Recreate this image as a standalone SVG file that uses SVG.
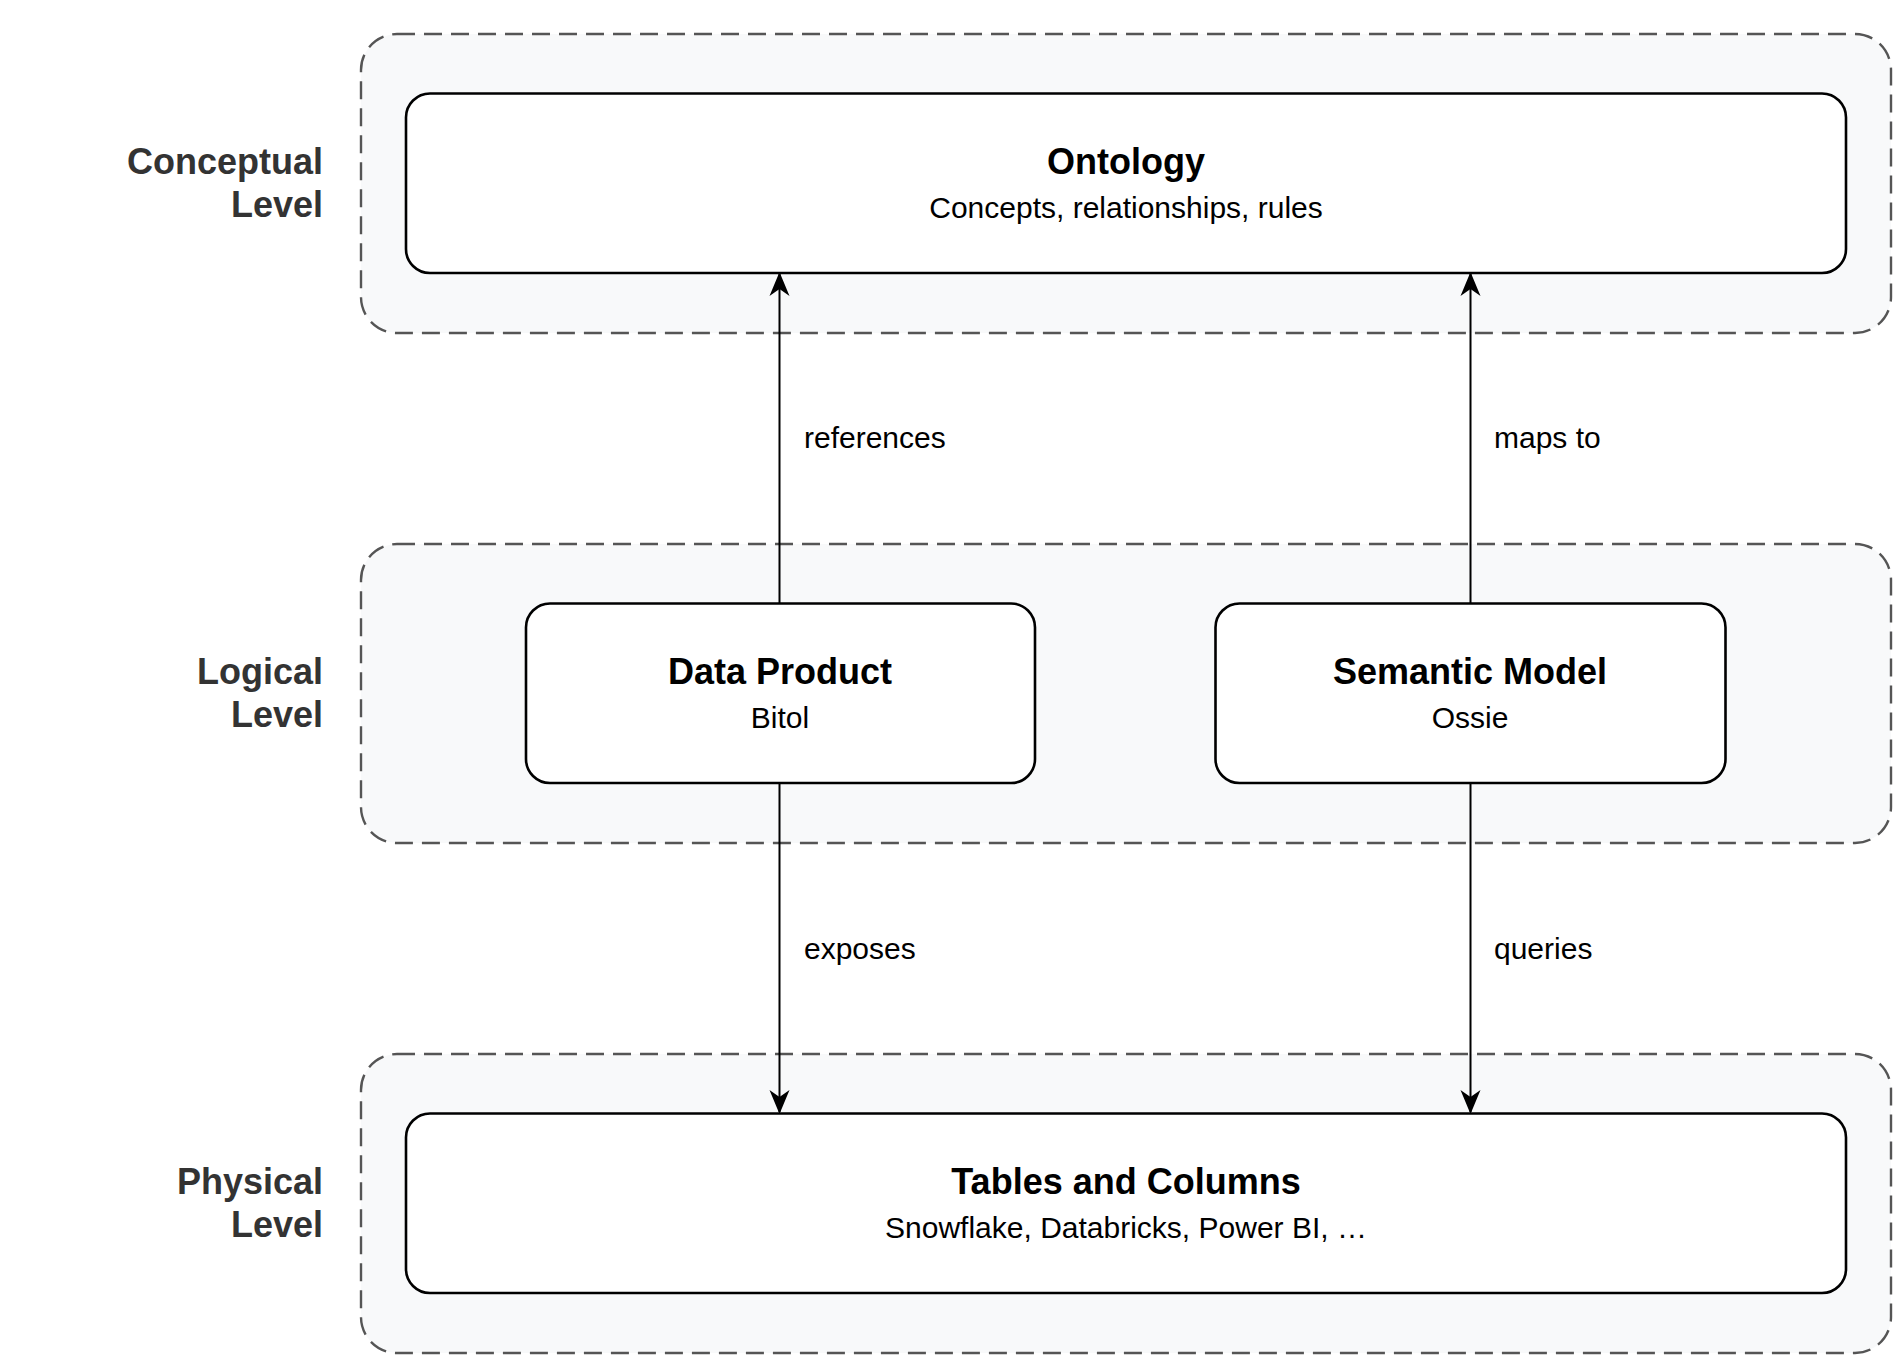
<svg xmlns="http://www.w3.org/2000/svg" width="1904" height="1367" viewBox="0 0 1904 1367">
<style>
.grp{fill:#f8f9fa;stroke:#555;stroke-width:2.4;stroke-dasharray:18 9}
.box{fill:#fff;stroke:#000;stroke-width:2.6}
.t{font-family:"Liberation Sans",Arial,sans-serif;font-weight:bold;font-size:36px;text-anchor:middle;fill:#000}
.s{font-family:"Liberation Sans",Arial,sans-serif;font-size:30px;text-anchor:middle;fill:#000}
.lv{font-family:"Liberation Sans",Arial,sans-serif;font-weight:bold;font-size:36px;text-anchor:end;fill:#333}
.el{font-family:"Liberation Sans",Arial,sans-serif;font-size:30px;fill:#000}
.e{stroke:#000;stroke-width:2;fill:none;marker-end:url(#ah)}
</style>
<defs>
<marker id="ah" viewBox="0 0 24 24" refX="22" refY="12" markerWidth="24" markerHeight="24" markerUnits="userSpaceOnUse" orient="auto">
<path d="M0,2 L24,12 L0,22 L7,12 Z" fill="#000"/>
</marker>
</defs>
<rect width="1904" height="1367" fill="#fff"/>
<g id="conceptual-level">
<rect class="grp" x="361" y="34" width="1530" height="299" rx="36"/>
<text class="lv" x="323" y="174">Conceptual</text>
<text class="lv" x="323" y="217">Level</text>
</g>
<g id="logical-level">
<rect class="grp" x="361" y="544" width="1530" height="299" rx="36"/>
<text class="lv" x="323" y="684">Logical</text>
<text class="lv" x="323" y="727">Level</text>
</g>
<g id="physical-level">
<rect class="grp" x="361" y="1054" width="1530" height="299" rx="36"/>
<text class="lv" x="323" y="1194">Physical</text>
<text class="lv" x="323" y="1237">Level</text>
</g>
<g id="ontology">
<rect class="box" x="406" y="93.5" width="1440" height="179.5" rx="24"/>
<text class="t" x="1126" y="174">Ontology</text>
<text class="s" x="1126" y="218">Concepts, relationships, rules</text>
</g>
<g id="data-product">
<rect class="box" x="526" y="603.5" width="509" height="179.5" rx="24"/>
<text class="t" x="780" y="684">Data Product</text>
<text class="s" x="780" y="728">Bitol</text>
</g>
<g id="semantic-model">
<rect class="box" x="1215.5" y="603.5" width="510" height="179.5" rx="24"/>
<text class="t" x="1470" y="684">Semantic Model</text>
<text class="s" x="1470" y="728">Ossie</text>
</g>
<g id="tables">
<rect class="box" x="406" y="1113.5" width="1440" height="179.5" rx="24"/>
<text class="t" x="1126" y="1194">Tables and Columns</text>
<text class="s" x="1126" y="1238">Snowflake, Databricks, Power BI, …</text>
</g>
<g id="connectors">
<path class="e" d="M779.5,603.5 V274"/>
<path class="e" d="M1470.5,603.5 V274"/>
<path class="e" d="M779.5,783 V1112"/>
<path class="e" d="M1470.5,783 V1112"/>
<text class="el" x="804" y="448">references</text>
<text class="el" x="1494" y="448">maps to</text>
<text class="el" x="804" y="959">exposes</text>
<text class="el" x="1494" y="959">queries</text>
</g>
</svg>
